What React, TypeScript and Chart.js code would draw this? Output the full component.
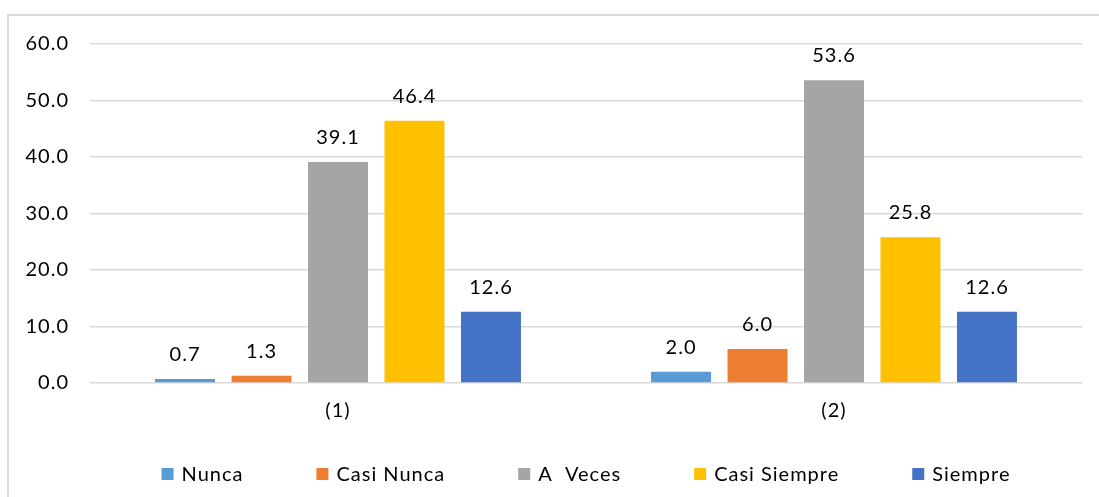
import React, { useEffect, useRef } from "react";
import { Chart, registerables } from "chart.js";

Chart.register(...registerables);

const categories = ["(1)", "(2)"];
const seriesNames = ["Nunca", "Casi Nunca", "A  Veces", "Casi Siempre", "Siempre"];
const nunca = [0.7, 2.0];
const casiNunca = [1.3, 6.0];
const aVeces = [39.1, 53.6];
const casiSiempre = [46.4, 25.8];
const siempre = [12.6, 12.6];
const colors = ["#5B9BD5", "#ED7D31", "#A5A5A5", "#FFC000", "#4472C4"];
const yTicks = [0, 10, 20, 30, 40, 50, 60];

const FONT = "Lato, 'Open Sans', sans-serif";
const TEXT = "#000000";

const spacingPlugin = {
  id: "letterSpacing",
  beforeDraw(chart: any) {
    chart.ctx.letterSpacing = "1px";
  },
};

const dataLabels = {
  id: "dataLabels",
  afterDatasetsDraw(chart: any) {
    const ctx = chart.ctx;
    ctx.save();
    ctx.letterSpacing = "1px";
    ctx.font = `20px ${FONT}`;
    ctx.fillStyle = TEXT;
    ctx.textAlign = "center";
    ctx.textBaseline = "alphabetic";
    chart.data.datasets.forEach((ds: any, i: number) => {
      const meta = chart.getDatasetMeta(i);
      meta.data.forEach((bar: any, j: number) => {
        ctx.fillText(Number(ds.data[j]).toFixed(1), bar.x, bar.y - 18);
      });
    });
    ctx.restore();
  },
};

const customLegend = {
  id: "customLegend",
  afterDraw(chart: any) {
    const ctx = chart.ctx;
    ctx.save();
    ctx.letterSpacing = "1px";
    ctx.font = `20px ${FONT}`;
    const box = 12;
    const gapBox = 8;
    const spacing = 73;
    const items = chart.data.datasets.map((ds: any) => ({
      label: ds.label,
      color: ds.backgroundColor,
      w: ctx.measureText(ds.label).width,
    }));
    const total =
      items.reduce((s: number, it: any) => s + box + gapBox + it.w, 0) +
      spacing * (items.length - 1);
    const ca = chart.chartArea;
    let x = (ca.left + ca.right) / 2 - total / 2;
    const y = chart.height - 23;
    ctx.textBaseline = "middle";
    ctx.textAlign = "left";
    items.forEach((it: any) => {
      ctx.fillStyle = it.color;
      ctx.fillRect(x, y - box / 2, box, box);
      ctx.fillStyle = TEXT;
      ctx.fillText(it.label, x + box + gapBox, y + 1);
      x += box + gapBox + it.w + spacing;
    });
    ctx.restore();
  },
};

export default function App() {
  const ref = useRef<HTMLCanvasElement>(null);
  useEffect(() => {
    if (!ref.current) return;
    const values = [nunca, casiNunca, aVeces, casiSiempre, siempre];
    const chart = new Chart(ref.current, {
      type: "bar",
      data: {
        labels: categories,
        datasets: values.map((v, i) => ({
          label: seriesNames[i],
          data: v,
          backgroundColor: colors[i],
          borderWidth: 0,
          barPercentage: 0.784,
          categoryPercentage: 0.771,
        })),
      },
      options: {
        animation: false,
        responsive: false,
        devicePixelRatio: 1,
        layout: { padding: { top: 44, right: 17, left: 0, bottom: 54 } },
        plugins: {
          legend: { display: false },
          tooltip: { enabled: false },
        },
        scales: {
          x: {
            grid: { display: false, drawTicks: false },
            border: { display: false },
            ticks: {
              color: TEXT,
              font: { family: FONT, size: 20 },
              padding: 16,
            },
            afterFit: (s: any) => {
              s.height = 60;
            },
          },
          y: {
            min: 0,
            max: 60,
            afterBuildTicks: (s: any) => {
              s.ticks = yTicks.map((v) => ({ value: v }));
            },
            grid: { color: "#d9d9d9", lineWidth: 1.5, drawTicks: false },
            border: { display: false },
            ticks: {
              color: TEXT,
              font: { family: FONT, size: 20 },
              padding: 21,
              callback: (v: any) => Number(v).toFixed(1),
            },
            afterFit: (s: any) => {
              s.width = 90;
            },
          },
        },
      },
      plugins: [spacingPlugin, dataLabels, customLegend],
    });
    return () => chart.destroy();
  }, []);
  return (
    <>
      <div
        style={{
          position: "fixed",
          left: 7,
          top: 14,
          width: 1200,
          height: 600,
          border: "2px solid #d9d9d9",
          boxSizing: "border-box",
        }}
      />
      <canvas
        ref={ref}
        width={1099}
        height={497}
        style={{ position: "fixed", left: 0, top: 0, width: 1099, height: 497 }}
      />
    </>
  );
}
